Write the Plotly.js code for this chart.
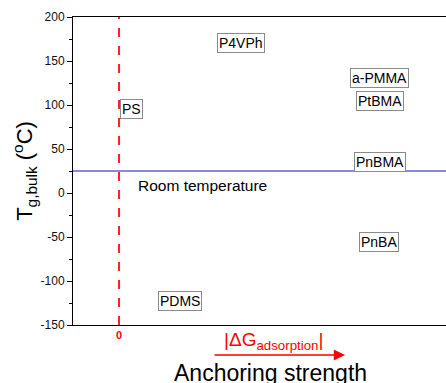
<!DOCTYPE html>
<html><head><meta charset="utf-8">
<script src="https://cdn.plot.ly/plotly-3.0.1.min.js"></script>
<style>html,body{margin:0;padding:0;background:#fff}</style>
</head><body><div id="chart" style="width:446px;height:383px"></div>
<script>
// Polymer labels placed by anchoring strength (arbitrary units) and bulk Tg (°C)
const polymers = ["PS", "P4VPh", "a-PMMA", "PtBMA", "PnBMA", "PnBA", "PDMS"];
const anchoring = [0.26, 2.65, 5.65, 5.67, 5.67, 5.65, 1.33];
const tgBulk = [95, 170, 131, 104, 35, -56, -123];
const roomTemp = 25;
const xRange = [-1, 7.1];
const yRange = [-150, 200];
const yTicks = [-150, -100, -50, 0, 50, 100, 150, 200];
const yTickText = ["-150", "-100", "-50", "0", "50", "100", "150", "200"];

const FONT = "Liberation Sans, Arial, sans-serif";

const annotations = polymers.map((p, i) => ({
  x: anchoring[i], y: tgBulk[i], xref: "x", yref: "y",
  text: p, showarrow: false,
  font: {family: FONT, size: 14, color: "#000"},
  bordercolor: "#8a8a8a", borderwidth: 1, borderpad: 1, bgcolor: "#fff"
}));
annotations.push({
  x: 0.37, y: 9, xref: "x", yref: "y", xanchor: "left",
  text: "Room temperature", showarrow: false,
  font: {family: FONT, size: 15.5, color: "#000"}
});
annotations.push({
  x: (273 - 73) / 373, y: -30 / 308, xref: "paper", yref: "paper",
  text: "|ΔG<sub>adsorption</sub>|", showarrow: false,
  font: {family: FONT, size: 19, color: "#ff0000"}
});
annotations.push({
  x: (345 - 73) / 373, y: -30 / 308, xref: "paper", yref: "paper",
  ax: -132, ay: 0, text: "", showarrow: true,
  arrowcolor: "#ff0000", arrowwidth: 1.6, arrowhead: 2, arrowsize: 1.4
});
annotations.push({
  x: (270 - 73) / 373, y: -48 / 308, xref: "paper", yref: "paper",
  text: "Anchoring strength", showarrow: false, yanchor: "middle",
  font: {family: FONT, size: 23, color: "#000"}
});

const layout = {
  width: 446, height: 383,
  margin: {l: 73, r: 0, t: 17, b: 58},
  paper_bgcolor: "#fff", plot_bgcolor: "#fff",
  showlegend: false,
  xaxis: {
    range: xRange, showgrid: false, zeroline: false,
    showline: true, linecolor: "#000", linewidth: 1, mirror: true,
    tickvals: [0], ticktext: ["<b>0</b>"], ticks: "",
    tickfont: {family: FONT, size: 11, color: "#ff0000"}
  },
  yaxis: {
    range: yRange, showgrid: false, zeroline: false,
    showline: true, linecolor: "#000", linewidth: 1,
    tickvals: yTicks, ticktext: yTickText, ticks: "outside", ticklen: 5, tickcolor: "#000",
    tickfont: {family: FONT, size: 12, color: "#111"},
    minor: {ticks: "outside", ticklen: 3, dtick: 25, tickcolor: "#000"},
    title: {text: "T<sub>g,bulk</sub> (<sup>o</sup>C)", font: {family: FONT, size: 22, color: "#000"}, standoff: 1}
  },
  shapes: [
    {type: "line", xref: "paper", yref: "y", x0: 0, x1: 1, y0: roomTemp, y1: roomTemp,
     line: {color: "#1010dd", width: 1.2}},
    {type: "line", xref: "x", yref: "y", x0: 0, x1: 0, y0: yRange[0], y1: yRange[1],
     line: {color: "#ff2020", width: 2, dash: "dash"}}
  ],
  annotations: annotations
};

Plotly.newPlot("chart", [{x: [], y: [], type: "scatter"}], layout, {displayModeBar: false, staticPlot: true});
</script></body></html>
